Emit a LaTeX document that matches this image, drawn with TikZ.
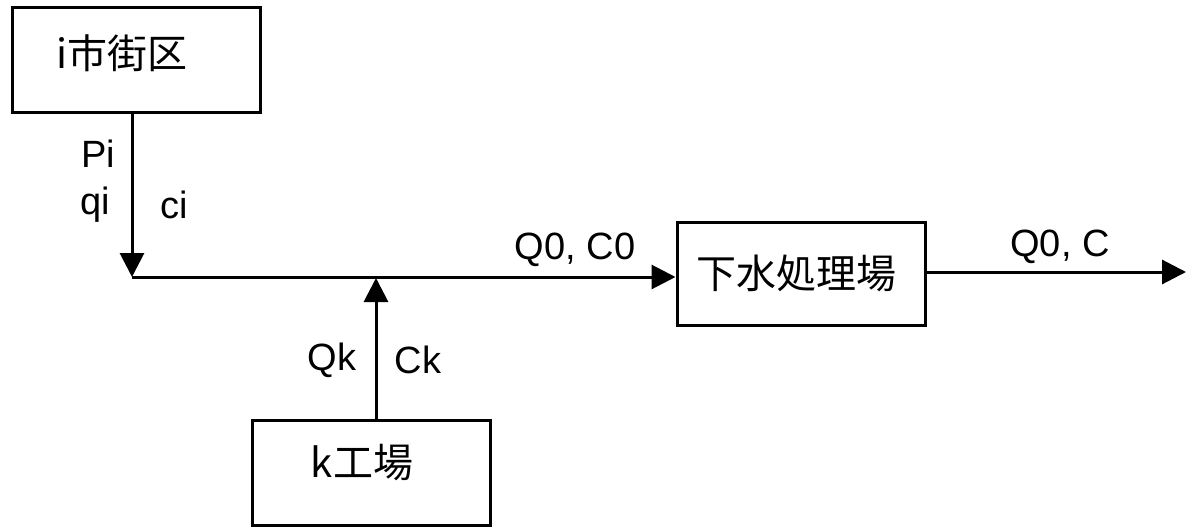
\documentclass[tikz,border=0pt]{standalone}
\usepackage{fontspec}
\setmainfont{Liberation Sans}
\newfontfamily\cjk{Noto Sans CJK JP}
\usetikzlibrary{arrows.meta}
\begin{document}
\begin{tikzpicture}[x=1pt,y=-1pt,
  box/.style={draw,line width=3pt,inner sep=0pt},
  lbl/.style={inner sep=0pt,font=\fontsize{38}{40}\selectfont},
  cj/.style={inner sep=0pt,font=\cjk\fontsize{40}{42}\selectfont},
  flow/.style={line width=3pt,-{Triangle[length=24pt,width=24pt]}}]
\useasboundingbox (0,0) rectangle (1186,527);
% boxes
\node[box,minimum width=248pt,minimum height=104pt] (city) at (136,60) {};
\node[cj] (citytxt) at (122,53) {i市街区};
\node[box,minimum width=248pt,minimum height=103pt] (plant) at (801,273.5) {};
\node[cj] (planttxt) at (796,273) {下水処理場};
\node[box,minimum width=238pt,minimum height=105pt] (factory) at (371,472.5) {};
\node[cj] (factorytxt) at (362,463) {k工場};
% coordinates
\coordinate (j) at (132,277);
\coordinate (fin) at (376,278);
\coordinate (out) at (1186,272);
% connectors
\draw[flow] (city.south -| j) -- (j);
\draw[flow] (j) -- (j -| plant.west);
\draw[flow] (factory.north -| fin) -- (fin);
\draw[flow] (plant.east |- out) -- (out);
% labels
\node[lbl] (pi) at (98,154) {Pi};
\node[lbl] (qi) at (95,205) {qi};
\node[lbl] (ci) at (174,205) {ci};
\node[lbl] (q0c0) at (575,250) {Q0, C0};
\node[lbl] (q0c) at (1060,247) {Q0, C};
\node[lbl] (qk) at (332,360) {Qk};
\node[lbl] (ck) at (418,360) {Ck};
\end{tikzpicture}
\end{document}
